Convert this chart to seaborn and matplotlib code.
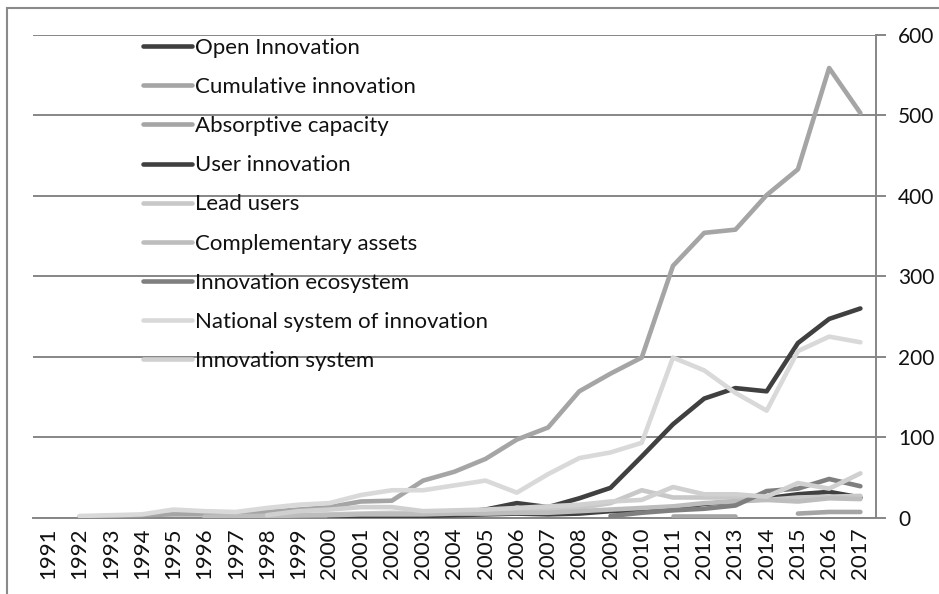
import numpy as np
import pandas as pd
import matplotlib
matplotlib.use("Agg")
import matplotlib.pyplot as plt
from matplotlib.lines import Line2D
from matplotlib.patches import Rectangle
import seaborn as sns

nan = np.nan
years = list(range(1991, 2018))

open_innovation = [nan] * 11 + [1, 3, 6, 10, 18, 13, 24, 37, 76, 116, 148, 161, 157, 217, 247, 260]
cumulative_innovation = [nan] * 20 + [2, 2, 2, nan, 5, 7, 7]
absorptive_capacity = [nan, 1, 2, 3, 4, 4, 5, 7, 10, 13, 20, 21, 46, 57, 73, 97, 112, 157, 179, 199,
                       313, 354, 358, 401, 433, 559, 503]
user_innovation = [nan] * 9 + [1, 2, 2, 2, 3, 4, 5, 4, 5, 8, 8, 12, 17, 20, 24, 29, 32, 25]
lead_users = [nan] * 6 + [1, 2, 3, 4, 5, 6, 5, 6, 8, 9, 10, 12, 18, 34, 25, 25, 25, 22, 25, 26, 27]
complementary_assets = [nan] * 5 + [1, 2, 2, 3, 3, 4, 4, 4, 5, 5, 6, 6, 8, 10, 12, 14, 18, 20, 22, 20, 24, 23]
innovation_ecosystem = [nan] * 18 + [2, 6, 9, 11, 15, 33, 36, 48, 39]
national_system = [nan, 2, 3, 4, 10, 8, 7, 12, 16, 18, 28, 34, 34, 40, 46, 31, 54, 74, 81, 93,
                   199, 183, 155, 133, 207, 225, 218]
innovation_system = [nan] * 7 + [3, 8, 10, 13, 13, 8, 9, 10, 12, 14, 16, 20, 22, 38, 29, 29, 26, 43, 36, 55]

series_names = ["Open Innovation", "Cumulative innovation", "Absorptive capacity", "User innovation",
                "Lead users", "Complementary assets", "Innovation ecosystem",
                "National system of innovation", "Innovation system"]
series_values = [open_innovation, cumulative_innovation, absorptive_capacity, user_innovation,
                 lead_users, complementary_assets, innovation_ecosystem, national_system,
                 innovation_system]
series_colors = ["#404040", "#A5A5A5", "#A5A5A5", "#404040", "#C8C8C8", "#BDBDBD", "#7F7F7F",
                 "#D9D9D9", "#D0D0D0"]
y_ticks = [0, 100, 200, 300, 400, 500, 600]

sns.set_style("white")
plt.rcParams["font.family"] = ["Lato", "DejaVu Sans"]

fig = plt.figure(figsize=(9.39, 5.94), dpi=100)
W, H = 939, 594
left, right, top, bottom = 32.7, 876, 35, 517.6
ax = fig.add_axes([left / W, 1 - bottom / H, (right - left) / W, (bottom - top) / H])

GRID = "#868686"
LW = 3.3
FS = 16
TXT = "#111111"

for name, vals, col in zip(series_names, series_values, series_colors):
    df = pd.DataFrame({"idx": np.arange(len(years)), "value": vals})
    valid = df["value"].notna()
    run_id = (~valid).cumsum()
    for _, run in df[valid].groupby(run_id[valid]):
        sns.lineplot(data=run, x="idx", y="value", ax=ax, color=col, linewidth=LW,
                     estimator=None, sort=False, legend=False,
                     solid_capstyle="round", solid_joinstyle="round", zorder=3)

ax.set_xlim(-0.5, len(years) - 0.5)
ax.set_ylim(0, 600)
ax.set_xlabel("")
ax.set_ylabel("")

ax.set_yticks(y_ticks)
ax.set_yticklabels([str(v) for v in y_ticks])
ax.yaxis.tick_right()
ax.yaxis.grid(True, color=GRID, linewidth=1.4)
ax.set_axisbelow(True)
ax.tick_params(axis="y", which="major", right=True, left=False, length=7, width=1.4,
               color=GRID, pad=9, labelsize=15, labelcolor=TXT, direction="out")

ax.set_xticks(np.arange(-0.5, len(years), 1.0))
ax.set_xticklabels([])
ax.tick_params(axis="x", which="major", length=8, width=1.4, color=GRID, direction="out")
ax.set_xticks(np.arange(len(years)), minor=True)
ax.set_xticklabels([str(y) for y in years], minor=True, rotation=90)
ax.tick_params(axis="x", which="minor", length=0, pad=7, labelsize=FS, labelcolor=TXT)

for s in ["left", "top"]:
    ax.spines[s].set_visible(False)
for s in ["right", "bottom"]:
    ax.spines[s].set_visible(True)
    ax.spines[s].set_color(GRID)
    ax.spines[s].set_linewidth(1.4)

handles = [Line2D([0], [0], color=c, lw=LW, solid_capstyle="round") for c in series_colors]
leg = fig.legend(handles, series_names, loc="upper left",
                 bbox_to_anchor=(143 / W, 1 - 38 / H), bbox_transform=fig.transFigure,
                 frameon=False, fontsize=FS, handlelength=2.2, handletextpad=0.15,
                 labelspacing=0.86, borderpad=0, borderaxespad=0)
for t in leg.get_texts():
    t.set_color(TXT)

fig.patches.append(Rectangle((7 / W, -0.1), 1.2, (H - 8) / H + 0.1, transform=fig.transFigure,
                             fill=False, edgecolor="#8a8a8a", linewidth=1.5, zorder=0))

fig.savefig("out.png", dpi=100)
